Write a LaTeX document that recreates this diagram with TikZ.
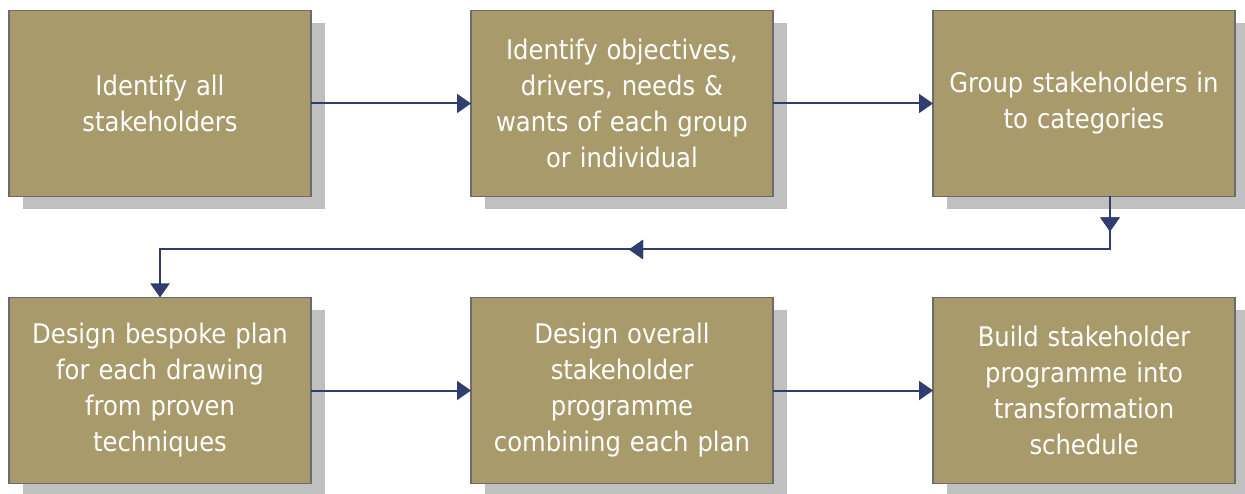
\documentclass[tikz,border=0pt]{standalone}
\usepackage{fontspec}
\setmainfont{DejaVu Sans Condensed}
\usetikzlibrary{shadows, arrows.meta, positioning, decorations.markings}

\definecolor{boxfill}{HTML}{A99A6B}
\definecolor{boxedge}{HTML}{6B6B6B}
\definecolor{shadowgray}{HTML}{C0C0C0}
\definecolor{linkblue}{HTML}{2F3E6D}

\begin{document}
\begin{tikzpicture}[
    x=1pt, y=1pt,
    node distance=101pt and 160pt,
    stepbox/.style={rectangle, draw=boxedge, line width=1.6pt, outer sep=0pt, fill=boxfill, minimum width=302pt, minimum height=186pt, align=center, text=white, text width=290pt, font=\fontsize{27}{36}\selectfont, drop shadow={shadow xshift=14pt, shadow yshift=-13pt, fill=shadowgray, opacity=1}},
    link/.style={draw=linkblue, line width=2pt, -{Triangle[width=19pt, length=14pt]}},
    tipmark/.style={postaction={decorate}, decoration={markings, mark=at position #1 with {\arrow{Triangle[width=19pt, length=14pt]}}}}
]
\useasboundingbox (0,0) rectangle (1245,-494);

% Top row
\node[stepbox] (s1) at (160,-103.5) {Identify all\\stakeholders};
\node[stepbox, right=of s1] (s2) {Identify objectives,\\drivers, needs \&\\wants of each group\\or individual};
\node[stepbox, right=of s2] (s3) {Group stakeholders in\\to categories};

% Bottom row
\node[stepbox, below=of s1] (s4) {Design bespoke plan\\for each drawing\\from proven\\techniques};
\node[stepbox, right=of s4] (s5) {Design overall\\stakeholder\\programme\\combining each plan};
\node[stepbox, right=of s5] (s6) {Build stakeholder\\programme into\\transformation\\schedule};

% Turn from the top row down to the bottom row
\coordinate (turn) at ([xshift=26pt, yshift=-53pt]s3.south);

% Draw lines
\draw[link] (s1) -- (s2);
\draw[link] (s2) -- (s3);
\draw[link, tipmark=35pt, tipmark=534pt] (s3.south -| turn) -- (turn) -| (s4.north);
\draw[link] (s4) -- (s5);
\draw[link] (s5) -- (s6);
\end{tikzpicture}
\end{document}
